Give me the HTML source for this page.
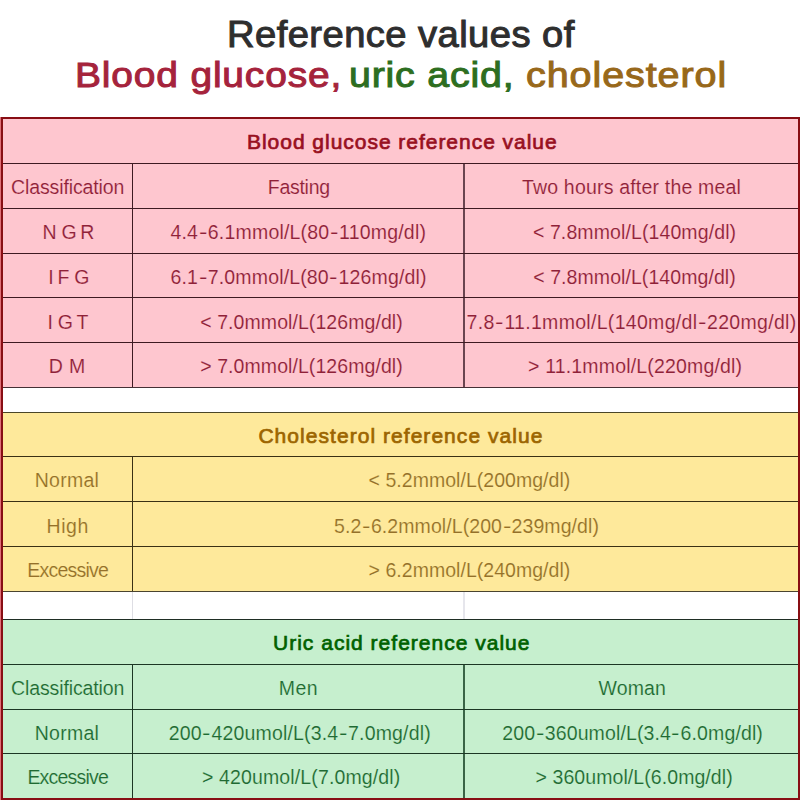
<!DOCTYPE html>
<html><head><meta charset="utf-8"><style>
html,body{margin:0;padding:0;background:#fff;}
body{width:800px;height:800px;position:relative;overflow:hidden;font-family:"Liberation Sans",sans-serif;}
.t{position:absolute;white-space:pre;}
.hy{margin:0 1.5px;display:inline-block;transform:scaleX(1.3);}
.r{position:absolute;}
.h{position:absolute;height:1px;background:#2a2020;}
.v{position:absolute;width:1px;background:#2a2020;}
#title2{position:absolute;left:0;top:0;white-space:pre;font-weight:bold;font-size:36px;line-height:36px;}
</style></head><body>
<div class="r" style="left:0;top:119px;width:800px;height:268px;background:#FEC6CF"></div>
<div class="r" style="left:0;top:413px;width:800px;height:178px;background:#FEE99B"></div>
<div class="r" style="left:0;top:620px;width:800px;height:178px;background:#C6EFCE"></div>
<!-- vertical lines -->
<div class="v" style="left:132px;top:163px;height:224px;background:#3e1a22"></div>
<div class="v" style="left:463px;top:163px;width:2px;height:224px;background:#6a4550"></div>
<div class="v" style="left:132px;top:456px;height:135px;background:#3a3014"></div>
<div class="v" style="left:132px;top:592px;height:27px;background:#dedee4"></div>
<div class="v" style="left:463px;top:592px;width:2px;height:27px;background:#e6e6ec"></div>
<div class="v" style="left:132px;top:664px;height:134px;background:#1c3624"></div>
<div class="v" style="left:463px;top:664px;width:2px;height:134px;background:#3a6446"></div>
<!-- horizontal lines -->
<div class="h" style="left:0;top:163px;width:800px;background:#3e1a22"></div><div class="h" style="left:0;top:208px;width:800px;background:#3e1a22"></div><div class="h" style="left:0;top:253px;width:800px;background:#3e1a22"></div><div class="h" style="left:0;top:297px;width:800px;background:#3e1a22"></div><div class="h" style="left:0;top:342px;width:800px;background:#3e1a22"></div><div class="h" style="left:0;top:387px;width:800px;background:#453035"></div><div class="h" style="left:0;top:412px;width:800px;background:#4a4628"></div><div class="h" style="left:0;top:456px;width:800px;background:#3a3014"></div><div class="h" style="left:0;top:501px;width:800px;background:#3a3014"></div><div class="h" style="left:0;top:546px;width:800px;background:#3a3014"></div><div class="h" style="left:0;top:591px;width:800px;background:#4a4430"></div><div class="h" style="left:0;top:619px;width:800px;background:#1f2e24"></div><div class="h" style="left:0;top:664px;width:800px;background:#1c3624"></div><div class="h" style="left:0;top:709px;width:800px;background:#1c3624"></div><div class="h" style="left:0;top:753px;width:800px;background:#1c3624"></div>
<!-- outer border -->
<div class="r" style="left:0;top:117px;width:1px;height:683px;background:#e07078"></div>
<div class="r" style="left:1px;top:117px;width:799px;height:683px;box-sizing:border-box;border:2px solid #880e14;"></div>
<div class="t" style="left:227.38px;top:17.00px;font-size:36px;line-height:36px;font-weight:normal;color:#2e2e2e;letter-spacing:0.425px;-webkit-text-stroke:1.0px #2e2e2e;transform:scaleX(1.0592);transform-origin:0 0">Reference values of</div>
<div class="t" style="left:74.78px;top:57.00px;font-size:35px;line-height:35px;font-weight:normal;color:#a5233c;letter-spacing:0.749px;-webkit-text-stroke:1.0px #a5233c;transform:scaleX(1.1124);transform-origin:0 0">Blood glucose,</div>
<div class="t" style="left:349.15px;top:57.00px;font-size:35px;line-height:35px;font-weight:normal;color:#2d6e1f;letter-spacing:0.711px;-webkit-text-stroke:1.0px #2d6e1f;transform:scaleX(1.1240);transform-origin:0 0">uric acid,</div>
<div class="t" style="left:525.77px;top:57.00px;font-size:35px;line-height:35px;font-weight:normal;color:#98681a;letter-spacing:0.814px;-webkit-text-stroke:1.0px #98681a;transform:scaleX(1.1287);transform-origin:0 0">cholesterol</div>
<div class="t" style="left:247.00px;top:131.00px;font-size:21px;line-height:21px;font-weight:normal;color:#98101f;letter-spacing:0.970px;-webkit-text-stroke:0.7px #98101f">Blood glucose reference value</div>
<div class="t" style="left:11.00px;top:178.00px;font-size:19.5px;line-height:19.5px;font-weight:normal;color:#8e2138;letter-spacing:-0.118px;-webkit-text-stroke:0.15px #FEC6CF">Classification</div>
<div class="t" style="left:267.75px;top:178.00px;font-size:19.5px;line-height:19.5px;font-weight:normal;color:#8e2138;letter-spacing:-0.267px;-webkit-text-stroke:0.15px #FEC6CF">Fasting</div>
<div class="t" style="left:521.90px;top:178.00px;font-size:19.5px;line-height:19.5px;font-weight:normal;color:#8e2138;letter-spacing:0.193px;-webkit-text-stroke:0.15px #FEC6CF">Two hours after the meal</div>
<div class="t" style="left:42.50px;top:223.00px;font-size:19.5px;line-height:19.5px;font-weight:normal;color:#8e2138;letter-spacing:0.000px;-webkit-text-stroke:0.15px #FEC6CF">N</div>
<div class="t" style="left:61.50px;top:223.00px;font-size:19.5px;line-height:19.5px;font-weight:normal;color:#8e2138;letter-spacing:0.000px;-webkit-text-stroke:0.15px #FEC6CF">G</div>
<div class="t" style="left:80.25px;top:223.00px;font-size:19.5px;line-height:19.5px;font-weight:normal;color:#8e2138;letter-spacing:0.000px;-webkit-text-stroke:0.15px #FEC6CF">R</div>
<div class="t" style="left:170.40px;top:223.00px;font-size:19.5px;line-height:19.5px;font-weight:normal;color:#8e2138;letter-spacing:0.197px;-webkit-text-stroke:0.15px #FEC6CF">4.4<span class="hy">-</span>6.1mmol/L(80<span class="hy">-</span>110mg/dl)</div>
<div class="t" style="left:532.90px;top:223.00px;font-size:19.5px;line-height:19.5px;font-weight:normal;color:#8e2138;letter-spacing:0.107px;-webkit-text-stroke:0.15px #FEC6CF">&lt; 7.8mmol/L(140mg/dl)</div>
<div class="t" style="left:48.17px;top:268.00px;font-size:19.5px;line-height:19.5px;font-weight:normal;color:#8e2138;letter-spacing:0.000px;-webkit-text-stroke:0.15px #FEC6CF">I</div>
<div class="t" style="left:57.50px;top:268.00px;font-size:19.5px;line-height:19.5px;font-weight:normal;color:#8e2138;letter-spacing:0.000px;-webkit-text-stroke:0.15px #FEC6CF">F</div>
<div class="t" style="left:74.25px;top:268.00px;font-size:19.5px;line-height:19.5px;font-weight:normal;color:#8e2138;letter-spacing:0.000px;-webkit-text-stroke:0.15px #FEC6CF">G</div>
<div class="t" style="left:170.50px;top:268.00px;font-size:19.5px;line-height:19.5px;font-weight:normal;color:#8e2138;letter-spacing:0.159px;-webkit-text-stroke:0.15px #FEC6CF">6.1<span class="hy">-</span>7.0mmol/L(80<span class="hy">-</span>126mg/dl)</div>
<div class="t" style="left:533.25px;top:268.00px;font-size:19.5px;line-height:19.5px;font-weight:normal;color:#8e2138;letter-spacing:0.070px;-webkit-text-stroke:0.15px #FEC6CF">&lt; 7.8mmol/L(140mg/dl)</div>
<div class="t" style="left:47.38px;top:313.00px;font-size:19.5px;line-height:19.5px;font-weight:normal;color:#8e2138;letter-spacing:0.000px;-webkit-text-stroke:0.15px #FEC6CF">I</div>
<div class="t" style="left:57.75px;top:313.00px;font-size:19.5px;line-height:19.5px;font-weight:normal;color:#8e2138;letter-spacing:0.000px;-webkit-text-stroke:0.15px #FEC6CF">G</div>
<div class="t" style="left:76.38px;top:313.00px;font-size:19.5px;line-height:19.5px;font-weight:normal;color:#8e2138;letter-spacing:0.000px;-webkit-text-stroke:0.15px #FEC6CF">T</div>
<div class="t" style="left:200.25px;top:313.00px;font-size:19.5px;line-height:19.5px;font-weight:normal;color:#8e2138;letter-spacing:0.070px;-webkit-text-stroke:0.15px #FEC6CF">&lt; 7.0mmol/L(126mg/dl)</div>
<div class="t" style="left:466.60px;top:313.00px;font-size:19.5px;line-height:19.5px;font-weight:normal;color:#8e2138;letter-spacing:0.301px;-webkit-text-stroke:0.15px #FEC6CF">7.8<span class="hy">-</span>11.1mmol/L(140mg/dl<span class="hy">-</span>220mg/dl)</div>
<div class="t" style="left:48.83px;top:357.00px;font-size:19.5px;line-height:19.5px;font-weight:normal;color:#8e2138;letter-spacing:0.000px;-webkit-text-stroke:0.15px #FEC6CF">D</div>
<div class="t" style="left:69.12px;top:357.00px;font-size:19.5px;line-height:19.5px;font-weight:normal;color:#8e2138;letter-spacing:0.000px;-webkit-text-stroke:0.15px #FEC6CF">M</div>
<div class="t" style="left:200.25px;top:357.00px;font-size:19.5px;line-height:19.5px;font-weight:normal;color:#8e2138;letter-spacing:0.070px;-webkit-text-stroke:0.15px #FEC6CF">&gt; 7.0mmol/L(126mg/dl)</div>
<div class="t" style="left:528.00px;top:357.00px;font-size:19.5px;line-height:19.5px;font-weight:normal;color:#8e2138;letter-spacing:0.169px;-webkit-text-stroke:0.15px #FEC6CF">&gt; 11.1mmol/L(220mg/dl)</div>
<div class="t" style="left:258.40px;top:425.00px;font-size:21px;line-height:21px;font-weight:normal;color:#9C6500;letter-spacing:1.045px;-webkit-text-stroke:0.7px #9C6500">Cholesterol reference value</div>
<div class="t" style="left:34.80px;top:471.00px;font-size:19.5px;line-height:19.5px;font-weight:normal;color:#94702a;letter-spacing:0.238px;-webkit-text-stroke:0.15px #FEE99B">Normal</div>
<div class="t" style="left:368.60px;top:471.00px;font-size:19.5px;line-height:19.5px;font-weight:normal;color:#94702a;letter-spacing:0.032px;-webkit-text-stroke:0.15px #FEE99B">&lt; 5.2mmol/L(200mg/dl)</div>
<div class="t" style="left:46.60px;top:517.00px;font-size:19.5px;line-height:19.5px;font-weight:normal;color:#94702a;letter-spacing:0.513px;-webkit-text-stroke:0.15px #FEE99B">High</div>
<div class="t" style="left:334.00px;top:517.00px;font-size:19.5px;line-height:19.5px;font-weight:normal;color:#94702a;letter-spacing:0.078px;-webkit-text-stroke:0.15px #FEE99B">5.2<span class="hy">-</span>6.2mmol/L(200<span class="hy">-</span>239mg/dl)</div>
<div class="t" style="left:27.35px;top:561.00px;font-size:19.5px;line-height:19.5px;font-weight:normal;color:#94702a;letter-spacing:-0.785px;-webkit-text-stroke:0.15px #FEE99B">Excessive</div>
<div class="t" style="left:368.60px;top:561.00px;font-size:19.5px;line-height:19.5px;font-weight:normal;color:#94702a;letter-spacing:0.032px;-webkit-text-stroke:0.15px #FEE99B">&gt; 6.2mmol/L(240mg/dl)</div>
<div class="t" style="left:273.00px;top:632.00px;font-size:21px;line-height:21px;font-weight:normal;color:#006100;letter-spacing:1.009px;-webkit-text-stroke:0.7px #006100">Uric acid reference value</div>
<div class="t" style="left:11.00px;top:679.00px;font-size:19.5px;line-height:19.5px;font-weight:normal;color:#1f6a33;letter-spacing:-0.118px;-webkit-text-stroke:0.15px #C6EFCE">Classification</div>
<div class="t" style="left:278.70px;top:679.00px;font-size:19.5px;line-height:19.5px;font-weight:normal;color:#1f6a33;letter-spacing:0.506px;-webkit-text-stroke:0.15px #C6EFCE">Men</div>
<div class="t" style="left:598.50px;top:679.00px;font-size:19.5px;line-height:19.5px;font-weight:normal;color:#1f6a33;letter-spacing:0.128px;-webkit-text-stroke:0.15px #C6EFCE">Woman</div>
<div class="t" style="left:34.80px;top:724.00px;font-size:19.5px;line-height:19.5px;font-weight:normal;color:#1f6a33;letter-spacing:0.238px;-webkit-text-stroke:0.15px #C6EFCE">Normal</div>
<div class="t" style="left:168.75px;top:724.00px;font-size:19.5px;line-height:19.5px;font-weight:normal;color:#1f6a33;letter-spacing:0.172px;-webkit-text-stroke:0.15px #C6EFCE">200<span class="hy">-</span>420umol/L(3.4<span class="hy">-</span>7.0mg/dl)</div>
<div class="t" style="left:502.25px;top:724.00px;font-size:19.5px;line-height:19.5px;font-weight:normal;color:#1f6a33;letter-spacing:0.118px;-webkit-text-stroke:0.15px #C6EFCE">200<span class="hy">-</span>360umol/L(3.4<span class="hy">-</span>6.0mg/dl)</div>
<div class="t" style="left:27.40px;top:768.00px;font-size:19.5px;line-height:19.5px;font-weight:normal;color:#1f6a33;letter-spacing:-0.792px;-webkit-text-stroke:0.15px #C6EFCE">Excessive</div>
<div class="t" style="left:202.00px;top:768.00px;font-size:19.5px;line-height:19.5px;font-weight:normal;color:#1f6a33;letter-spacing:0.132px;-webkit-text-stroke:0.15px #C6EFCE">&gt; 420umol/L(7.0mg/dl)</div>
<div class="t" style="left:535.50px;top:768.00px;font-size:19.5px;line-height:19.5px;font-weight:normal;color:#1f6a33;letter-spacing:0.077px;-webkit-text-stroke:0.15px #C6EFCE">&gt; 360umol/L(6.0mg/dl)</div>
</body></html>
